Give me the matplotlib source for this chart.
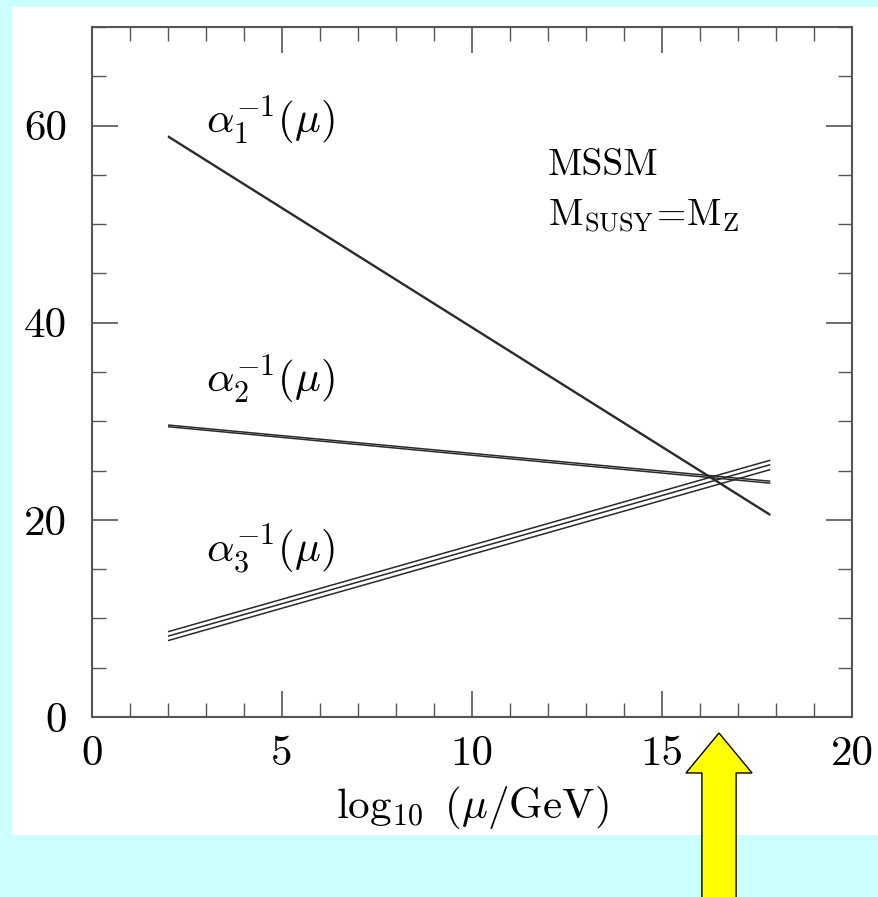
import matplotlib
matplotlib.use("Agg")
import matplotlib.pyplot as plt
from matplotlib.patches import Rectangle, FancyArrow
from matplotlib.ticker import MultipleLocator

plt.rcParams['mathtext.fontset'] = 'cm'
plt.rcParams['font.family'] = ['cmr10', 'DejaVu Serif']
plt.rcParams['axes.formatter.use_mathtext'] = True

# ---- data ----
x_range = [2.0, 17.85]                       # log10(mu/GeV) start / end
alpha1_inv = [[58.95, 20.55], [58.85, 20.45]]
alpha2_inv = [[29.62, 23.92], [29.45, 23.72]]
alpha3_inv = [[8.65, 26.05], [8.2, 25.6], [7.75, 25.1]]
xticks = [0, 5, 10, 15, 20]
xtick_labels = ['0', '5', '10', '15', '20']
yticks = [0, 20, 40, 60]
ytick_labels = ['0', '20', '40', '60']
gut_scale = 16.5

W, H = 879, 897
fig = plt.figure(figsize=(W / 100, H / 100), dpi=100)
fig.patch.set_facecolor('#CCFFFF')
fig.patches.append(Rectangle((12 / W, 1 - 835 / H), 1 - 12 / W, (835 - 7) / H,
                             transform=fig.transFigure, facecolor='white',
                             edgecolor='none', zorder=-5))

ax = fig.add_axes([92 / W, 1 - 717 / H, (852 - 92) / W, (717 - 27) / H])
ax.set_zorder(1)
ax.set_facecolor('white')
ax.set_xlim(0, 20)
ax.set_ylim(0, 70)

lc = '#2a2a2a'
for series in (alpha1_inv, alpha2_inv, alpha3_inv):
    for ys in series:
        ax.plot(x_range, ys, color=lc, lw=1.1, solid_capstyle='butt')

ax.text(3.0, 60.6, r'$\alpha_1^{-1}(\mu)$', fontsize=31, ha='left', va='center')
ax.text(3.0, 34.3, r'$\alpha_2^{-1}(\mu)$', fontsize=31, ha='left', va='center')
ax.text(3.0, 17.0, r'$\alpha_3^{-1}(\mu)$', fontsize=31, ha='left', va='center')
ax.text(12.0, 56.0, 'MSSM', fontsize=27, ha='left', va='center')
ax.text(12.0, 50.8, r'$\mathrm{M_{SUSY}\!=\!M_Z}$', fontsize=27, ha='left', va='center')

ax.set_xticks(xticks)
ax.set_xticklabels(xtick_labels)
ax.set_yticks(yticks)
ax.set_yticklabels(ytick_labels)
ax.xaxis.set_minor_locator(MultipleLocator(1))
ax.yaxis.set_minor_locator(MultipleLocator(5))
ax.tick_params(which='both', direction='in', top=True, right=True, color='#555555')
ax.tick_params(which='major', length=19, width=1.2, labelsize=31, pad=13)
ax.tick_params(which='minor', length=10, width=1.0)
ax.tick_params(axis='y', which='major', pad=18)
for s in ax.spines.values():
    s.set_color('#555555')
    s.set_linewidth(1.5)

ax.set_xlabel(r'$\log_{10}\ (\mu/\mathrm{GeV})$', fontsize=31, labelpad=8)

arrow = FancyArrow(gut_scale, -19.0, 0, 19.0 - 1.62, width=0.9, head_width=1.74,
                   head_length=4.06, length_includes_head=True, clip_on=False,
                   facecolor='#FFFF00', edgecolor='black', lw=1.0, zorder=10)
ax.add_patch(arrow)

fig.savefig('out.png', dpi=100, facecolor=fig.get_facecolor())
